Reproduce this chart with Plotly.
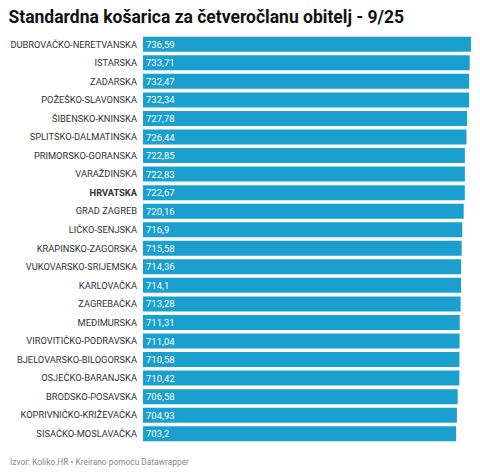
import plotly.graph_objects as go

regions = [
    "DUBROVAČKO-NERETVANSKA", "ISTARSKA", "ZADARSKA", "POŽEŠKO-SLAVONSKA",
    "ŠIBENSKO-KNINSKA", "SPLITSKO-DALMATINSKA", "PRIMORSKO-GORANSKA",
    "VARAŽDINSKA", "HRVATSKA", "GRAD ZAGREB", "LIČKO-SENJSKA",
    "KRAPINSKO-ZAGORSKA", "VUKOVARSKO-SRIJEMSKA", "KARLOVAČKA",
    "ZAGREBAČKA", "MEĐIMURSKA", "VIROVITIČKO-PODRAVSKA",
    "BJELOVARSKO-BILOGORSKA", "OSJEČKO-BARANJSKA", "BRODSKO-POSAVSKA",
    "KOPRIVNIČKO-KRIŽEVAČKA", "SISAČKO-MOSLAVAČKA",
]
values = [
    736.59, 733.71, 732.47, 732.34, 727.78, 726.44, 722.85, 722.83, 722.67,
    720.16, 716.9, 715.58, 714.36, 714.1, 713.28, 711.31, 711.04, 710.58,
    710.42, 706.58, 704.93, 703.2,
]
highlight = "HRVATSKA"

value_text = [str(v).replace(".", ",") for v in values]
tick_text = [f"<b>{r}</b>" if r == highlight else r for r in regions]

W, H = 480, 475
# page body has an 8px default margin; compensate so the visible area matches
OFF = 8

fig = go.Figure(go.Bar(
    x=values, y=regions, orientation="h",
    marker=dict(color="#1a9fcf", line=dict(width=0)),
    text=value_text, textposition="inside", insidetextanchor="start",
    constraintext="none",
    textfont=dict(color="white", size=9.5, family="Roboto"),
    hoverinfo="skip",
))

plot_w = 471 - 143
fig.update_layout(
    width=W, height=H,
    margin=dict(l=143 - OFF, r=W - (471 - OFF), t=35 - OFF, b=H - (443 - OFF)),
    paper_bgcolor="white", plot_bgcolor="white",
    bargap=0.19,
    showlegend=False,
    font=dict(family="Roboto", color="#333333"),
    title=dict(
        text="<b>Standardna košarica za četveročlanu obitelj - 9/25</b>",
        x=(8 - OFF) / W + 0.001, xanchor="left",
        y=1 - 3 / H, yref="container", yanchor="top", pad=dict(t=0, b=0, l=0, r=0),
        font=dict(size=17.5, color="#111111", family="Roboto"),
    ),
    xaxis=dict(range=[0, 736.59], visible=False, fixedrange=True),
    yaxis=dict(
        categoryorder="array", categoryarray=regions[::-1],
        tickmode="array", tickvals=regions, ticktext=tick_text,
        tickfont=dict(size=9.3, color="#333333", family="Roboto"),
        ticks="", ticklabelstandoff=5, showgrid=False, showline=False,
        zeroline=False, automargin=False,
    ),
    annotations=[dict(
        text="Izvor: Koliko.HR • Kreirano pomoću Datawrapper",
        xref="paper", yref="paper", x=-(143 - 8) / plot_w, y=0,
        xanchor="left", yanchor="middle", yshift=-19,
        showarrow=False, font=dict(size=8.4, color="#8a8a8a", family="Roboto"),
    )],
)

fig.write_html("out.html")
